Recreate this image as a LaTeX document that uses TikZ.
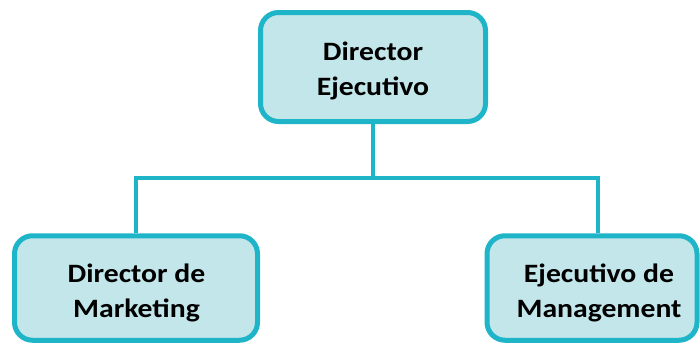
\documentclass[tikz,border=0pt]{standalone}
\usepackage{fontspec}
\setmainfont{Carlito}[FakeStretch=1.12]
\definecolor{boxfill}{RGB}{194,230,234}
\definecolor{boxline}{RGB}{30,181,200}
\begin{document}
\begin{tikzpicture}[x=1pt,y=-1pt,
  orgbox/.style={draw=boxline, fill=boxfill, line width=5pt, rounded corners=18pt},
  orgtext/.style={anchor=base, inner sep=0pt, align=center,
    font=\fontsize{26.5}{35}\selectfont\bfseries, text=black},
  link/.style={draw=boxline, line width=4.5pt}]
  \useasboundingbox (0,0) rectangle (700,343);
  \clip (0,0) rectangle (700,343);
  % boxes
  \node[orgbox, minimum width=225pt, minimum height=109pt] (ceo) at (373,67) {};
  \node[orgbox, minimum width=243pt, minimum height=104.5pt] (mkt) at (136,288) {};
  \node[orgbox, minimum width=210pt, minimum height=104.5pt] (mgmt) at (592,288) {};
  % labels (baseline of the last line given)
  \node[orgtext] (ceo-t) at (373,95) {Director\\Ejecutivo};
  \node[orgtext] (mkt-t) at (136.5,317) {Director de\\Marketing};
  \node[orgtext] (mgmt-t) at (599,317) {Ejecutivo de\\Management};
  % connectors
  \coordinate (bus) at (373,178);
  \draw[link] (ceo.south) -- (bus);
  \draw[link] (mkt.north) |- (bus) -| ([xshift=6pt]mgmt.north);
\end{tikzpicture}
\end{document}
